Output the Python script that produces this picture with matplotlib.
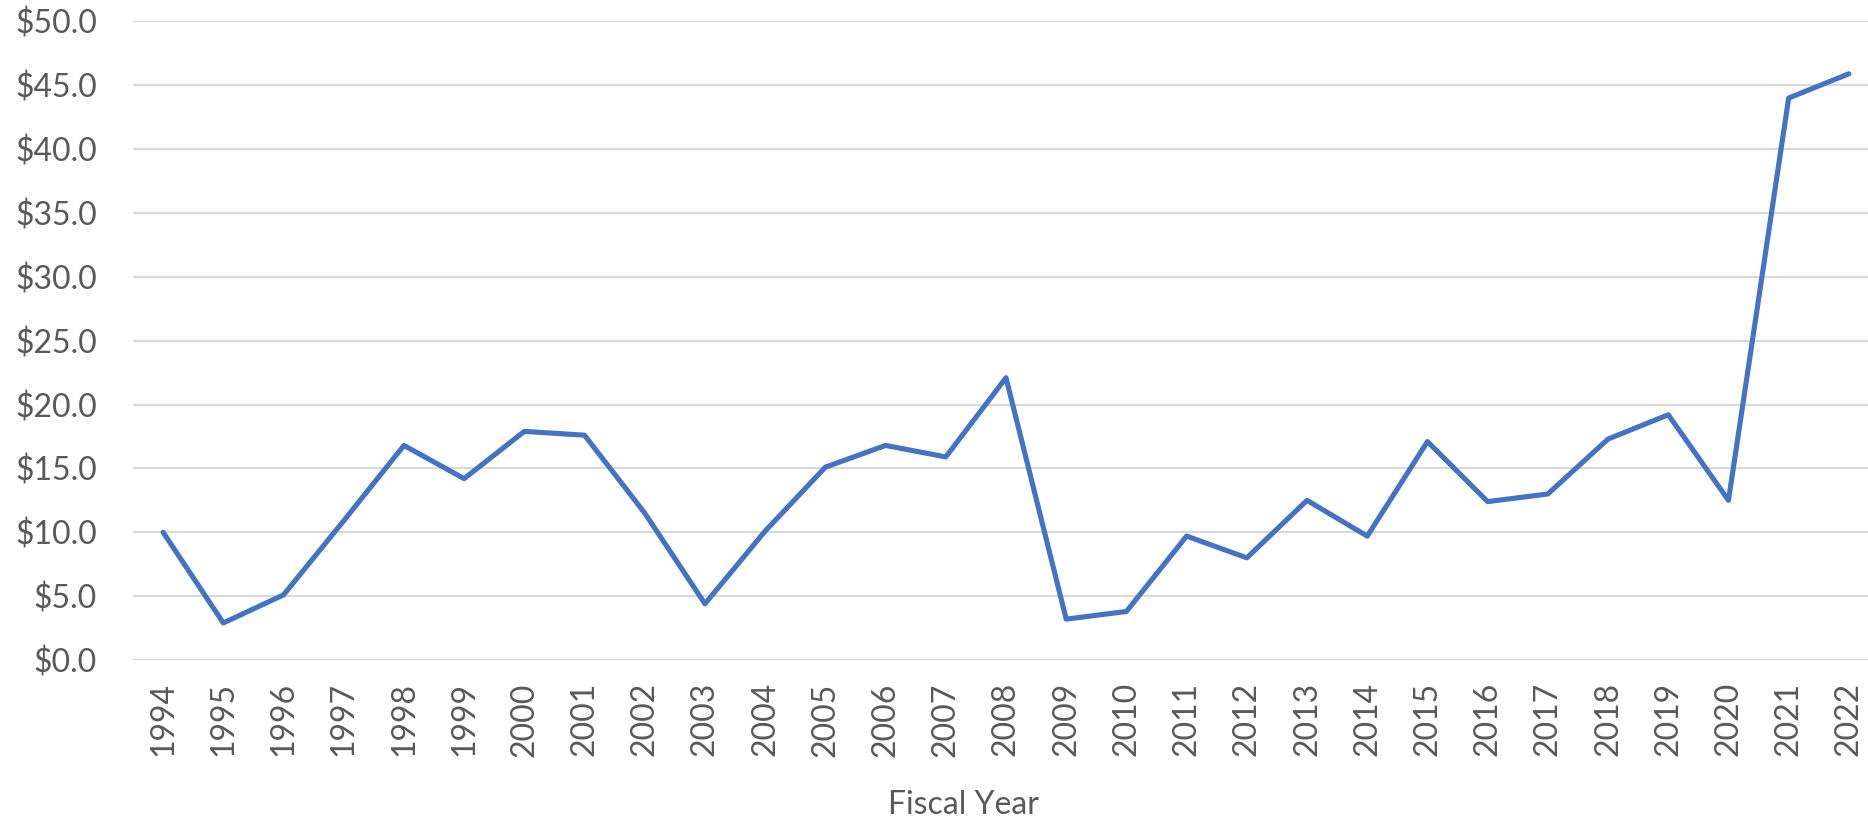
import matplotlib
matplotlib.use("Agg")
import matplotlib.pyplot as plt
from matplotlib.ticker import FuncFormatter, MultipleLocator

years = [str(y) for y in range(1994, 2023)]
values = [10.0, 2.9, 5.1, 10.9, 16.8, 14.2, 17.9, 17.6, 11.5, 4.4,
          10.1, 15.1, 16.8, 15.9, 22.1, 3.2, 3.8, 9.7, 8.0, 12.5,
          9.7, 17.1, 12.4, 13.0, 17.3, 19.2, 12.5, 44.0, 45.9]

plt.rcParams['font.family'] = ['Lato', 'DejaVu Sans']
text_color = '#595959'

W, H = 1868, 824
fig = plt.figure(figsize=(W / 100, H / 100), dpi=100)
left, right = 133 / W, 1879 / W
bottom, top = (H - 660) / H, (H - 21.4) / H
ax = fig.add_axes([left, bottom, right - left, top - bottom])

x = list(range(len(years)))
ax.plot(x, values, color='#4472C4', linewidth=3.7, solid_joinstyle='round', solid_capstyle='round', zorder=3)

ax.set_xlim(-0.5, len(years) - 0.5)
ax.set_ylim(0, 50)
ax.yaxis.set_major_locator(MultipleLocator(5))
ax.yaxis.set_major_formatter(FuncFormatter(lambda v, p: f"${v:.1f}"))
ax.set_xticks(x)
ax.set_xticklabels(years, rotation=90)

ax.grid(axis='y', color='#D9D9D9', linewidth=1.6, zorder=0)
ax.set_axisbelow(True)
for s in ax.spines.values():
    s.set_visible(False)
ax.tick_params(axis='both', length=0, labelsize=23, colors=text_color)
ax.tick_params(axis='y', pad=26)
ax.tick_params(axis='x', pad=16)

fig.text(963 / W, (H - 805) / H, "Fiscal Year", ha='center', va='center', fontsize=23, color=text_color)

fig.savefig("out.png", dpi=100)
